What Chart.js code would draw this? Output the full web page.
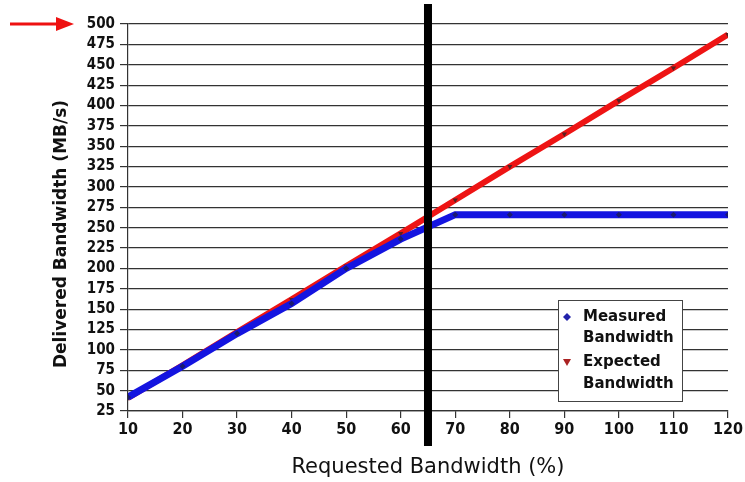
<!DOCTYPE html>
<html>
<head>
<meta charset="utf-8">
<script src="https://cdn.jsdelivr.net/npm/chart.js@4"></script>
<style>
html,body{margin:0;padding:0;background:#fff;}
#wrap{width:745px;height:482px;position:relative;}
</style>
</head>
<body>
<div id="wrap"><canvas id="c" width="745" height="482"></canvas></div>
<script>
const requested = [10, 20, 30, 40, 50, 60, 70, 80, 90, 100, 110, 120];
const measured  = [42, 80, 120, 157, 200, 236, 266, 266, 266, 266, 266, 266];
const expected  = [41, 81, 122, 162, 203, 243, 284, 325, 365, 406, 446, 487];
const yTicks = [25, 50, 75, 100, 125, 150, 175, 200, 225, 250, 275, 300, 325, 350, 375, 400, 425, 450, 475, 500];
const xTicks = [10, 20, 30, 40, 50, 60, 70, 80, 90, 100, 110, 120];
const markerX = 65;
const seriesNames = [["Measured", "Bandwidth"], ["Expected", "Bandwidth"]];
const yTitle = 'Delivered Bandwidth (MB/s)';
const xTitle = 'Requested Bandwidth (%)';

const toXY = (xs, ys) => xs.map((x, i) => ({x: x, y: ys[i]}));

const overlay = {
  id: 'overlay',
  afterDraw(chart) {
    const ctx = chart.ctx;
    const xs = chart.scales.x;
    const ys = chart.scales.y;
    ctx.save();
    // y axis title
    ctx.save();
    ctx.translate(62, 234);
    ctx.rotate(-Math.PI / 2);
    ctx.font = 'bold 17px "DejaVu Sans"';
    ctx.fillStyle = '#111';
    ctx.textAlign = 'center';
    ctx.textBaseline = 'middle';
    ctx.fillText(yTitle, 0, 0);
    ctx.restore();
    // vertical black marker line
    const px = xs.getPixelForValue(markerX);
    ctx.fillStyle = '#000';
    ctx.fillRect(px - 4, 4, 8, 442);
    // red arrow pointing at the top tick
    const ay = ys.getPixelForValue(500);
    ctx.fillStyle = '#ee1111';
    ctx.fillRect(10, ay - 1.5, 48, 3);
    ctx.beginPath();
    ctx.moveTo(56, ay - 7);
    ctx.lineTo(74, ay);
    ctx.lineTo(56, ay + 7);
    ctx.closePath();
    ctx.fill();
    // legend box
    const bx = 558, by = 300, bw = 124, bh = 101;
    ctx.fillStyle = '#fff';
    ctx.fillRect(bx, by, bw, bh);
    ctx.strokeStyle = '#444';
    ctx.lineWidth = 1;
    ctx.strokeRect(bx + 0.5, by + 0.5, bw, bh);
    ctx.font = 'bold 15px "DejaVu Sans"';
    ctx.fillStyle = '#111';
    ctx.textBaseline = 'middle';
    ctx.textAlign = 'left';
    const rows = [[by + 17, by + 38], [by + 62, by + 84]];
    seriesNames.forEach((lines, i) => {
      ctx.fillText(lines[0], bx + 25, rows[i][0]);
      ctx.fillText(lines[1], bx + 25, rows[i][1]);
    });
    // markers
    const mx = bx + 9;
    ctx.fillStyle = '#2222aa';
    ctx.beginPath();
    let my = rows[0][0];
    ctx.moveTo(mx, my - 4); ctx.lineTo(mx + 4, my); ctx.lineTo(mx, my + 4); ctx.lineTo(mx - 4, my); ctx.closePath();
    ctx.fill();
    ctx.fillStyle = '#aa2222';
    my = rows[1][0];
    ctx.beginPath();
    ctx.moveTo(mx - 4, my - 3); ctx.lineTo(mx + 4, my - 3); ctx.lineTo(mx, my + 4); ctx.closePath();
    ctx.fill();
    ctx.restore();
  }
};

new Chart(document.getElementById('c'), {
  type: 'line',
  data: {
    datasets: [
      {
        label: 'Measured Bandwidth',
        data: toXY(requested, measured),
        borderColor: '#1414e0',
        backgroundColor: '#1a1a70',
        borderWidth: 7,
        pointStyle: 'rectRot',
        pointRadius: 3,
        pointBorderWidth: 0,
        pointBackgroundColor: '#1a1a70',
        tension: 0
      },
      {
        label: 'Expected Bandwidth',
        data: toXY(requested, expected),
        borderColor: '#ee1414',
        backgroundColor: '#702020',
        borderWidth: 6,
        pointStyle: 'triangle',
        pointRotation: 180,
        pointRadius: 3,
        pointBorderWidth: 0,
        pointBackgroundColor: '#5a2020',
        tension: 0
      }
    ]
  },
  options: {
    responsive: false,
    animation: false,
    devicePixelRatio: 1,
    layout: { padding: { top: 24, right: 17, bottom: 0, left: 0 } },
    plugins: { legend: { display: false }, tooltip: { enabled: false } },
    scales: {
      x: {
        type: 'linear',
        min: 10, max: 120,
        afterBuildTicks: s => { s.ticks = xTicks.map(v => ({value: v})); },
        afterFit: s => { s.height = 71; },
        ticks: {
          color: '#111',
          font: { family: '"DejaVu Sans Condensed"', size: 16, weight: 'bold' },
          padding: 2,
          maxRotation: 0,
          autoSkip: false
        },
        grid: { drawOnChartArea: false, color: '#333', lineWidth: 1.2, tickLength: 7, tickColor: '#333' },
        border: { color: '#333', width: 1.2 },
        title: {
          display: true,
          text: xTitle,
          color: '#111',
          font: { family: '"DejaVu Sans"', size: 21 },
          padding: { top: 0, bottom: 2 }
        }
      },
      y: {
        min: 25, max: 500,
        afterBuildTicks: s => { s.ticks = yTicks.map(v => ({value: v})); },
        afterFit: s => { s.width = 128; },
        ticks: {
          color: '#111',
          font: { family: '"DejaVu Sans Condensed"', size: 15, weight: 'bold' },
          padding: 5,
          autoSkip: false
        },
        grid: { color: '#333', lineWidth: 1.2, tickLength: 8, tickColor: '#333' },
        border: { color: '#333', width: 1.2 }
      }
    }
  },
  plugins: [overlay]
});
</script>
</body>
</html>
